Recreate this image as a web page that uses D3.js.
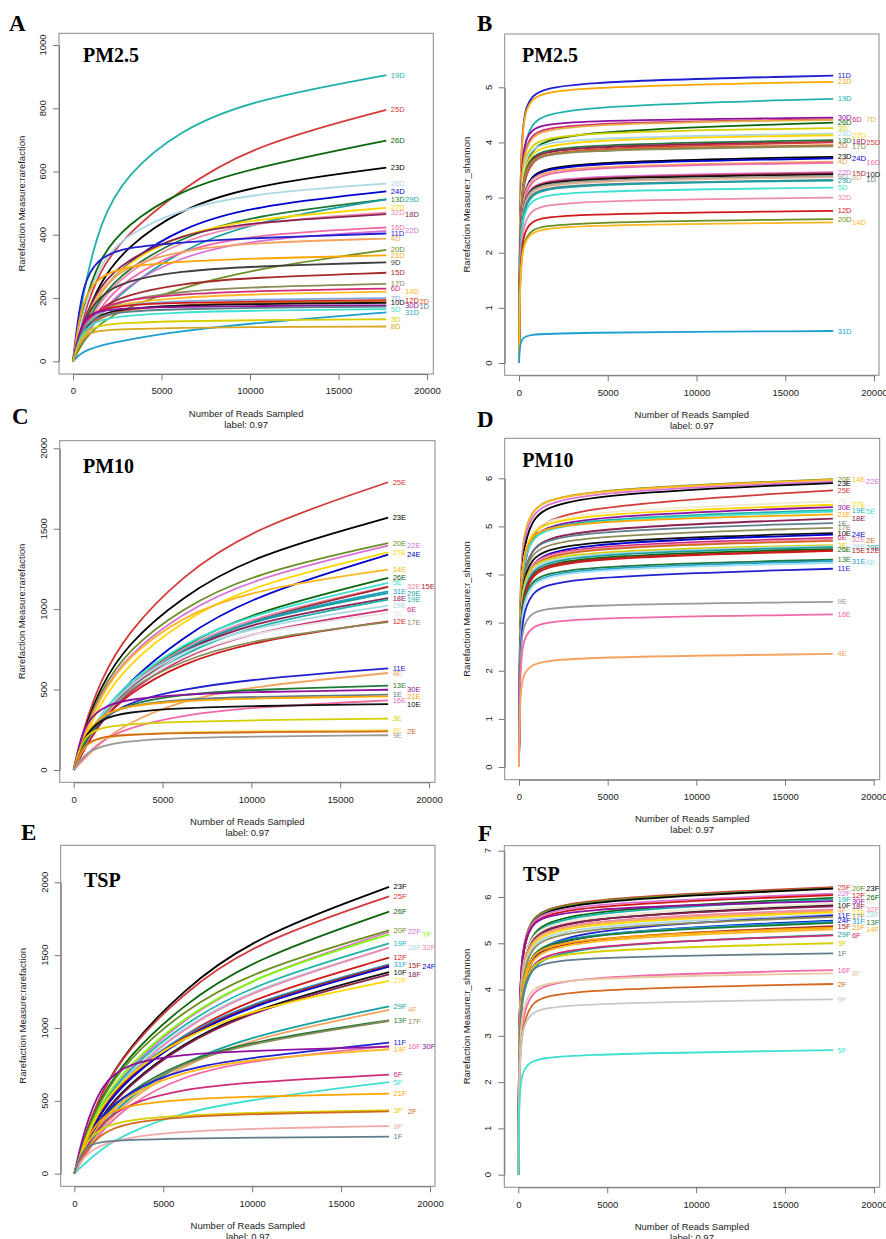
<!DOCTYPE html>
<html>
<head>
<meta charset="utf-8">
<script src="https://cdn.jsdelivr.net/npm/d3@7"></script>
<style>
  body { margin: 0; background: #fff; }
</style>
</head>
<body>
<svg id="fig" width="886" height="1239"></svg>
<script>
// ----- //
// data
// ----- //
// reads sampled at which each curve was read
const richX = [0, 500, 1500, 3000, 6000, 10000, 17700];
const shanX = [0, 50, 200, 600, 2000, 17700];
const xTicks = [0, 5000, 10000, 15000, 20000];

// A: PM2.5 richness
const aNames = ["19D","25D","26D","23D","28D","24D","13D","29D","27D","32D","18D","16D","22D","11D","4D","20D","21D","9D","15D","17D","6D","14D","7D","12D","2D","10D","30D","1D","5D","31D","3D","8D"];
const aValues = [
  [0,200,440,590,730,825,905],
  [0,130,290,400,540,680,795],
  [0,160,330,430,540,610,698],
  [0,110,250,360,480,555,612],
  [0,150,310,400,480,530,562],
  [0,100,220,310,420,490,537],
  [0,90,200,290,390,460,512],
  [0,60,150,230,350,440,512],
  [0,100,220,310,400,450,485],
  [0,80,190,280,380,440,470],
  [0,120,240,320,400,440,465],
  [0,70,170,260,350,400,423],
  [0,60,150,240,330,385,412],
  [0,250,330,360,375,390,404],
  [0,110,230,300,350,375,388],
  [0,60,120,170,230,290,352],
  [0,200,270,300,315,325,335],
  [0,120,210,255,285,300,313],
  [0,100,170,210,245,265,280],
  [0,90,160,195,220,235,245],
  [0,110,170,195,212,222,230],
  [0,100,160,185,202,212,220],
  [0,110,160,180,190,195,200],
  [0,130,165,178,185,189,193],
  [0,90,140,165,178,185,190],
  [0,100,150,168,177,181,185],
  [0,140,160,168,172,175,177],
  [0,110,145,158,165,169,173],
  [0,100,132,145,155,160,165],
  [0,30,50,68,95,120,155],
  [0,90,115,122,127,130,133],
  [0,85,98,102,106,108,110]
];
const aTicks = [0, 200, 400, 600, 800, 1000];

// B: PM2.5 shannon
const bNames = ["11D","21D","19D","30D","6D","7D","26D","3D","28D","27D","13D","18D","25D","2D","17D","23D","24D","4D","16D","22D","15D","10D","9D","8D","1D","29D","5D","32D","12D","20D","14D","31D"];
const bValues = [
  [0,3.1,4.45,4.85,5.1,5.21],
  [0,3.1,4.4,4.8,5.0,5.10],
  [0,2.6,3.8,4.35,4.65,4.79],
  [0,2.7,3.9,4.25,4.4,4.45],
  [0,2.6,3.75,4.15,4.35,4.42],
  [0,2.6,3.7,4.1,4.33,4.41],
  [0,2.3,3.4,3.85,4.2,4.36],
  [0,2.5,3.6,3.95,4.18,4.26],
  [0,2.5,3.55,3.88,4.08,4.16],
  [0,2.4,3.45,3.8,4.05,4.13],
  [0,2.3,3.35,3.75,3.96,4.04],
  [0,2.3,3.3,3.72,3.93,4.01],
  [0,2.2,3.2,3.65,3.9,4.00],
  [0,2.3,3.3,3.7,3.88,3.95],
  [0,2.3,3.3,3.68,3.86,3.93],
  [0,2.1,3.0,3.4,3.64,3.74],
  [0,2.1,3.0,3.38,3.62,3.71],
  [0,2.1,3.0,3.35,3.57,3.65],
  [0,2.0,2.9,3.3,3.55,3.63],
  [0,2.0,2.85,3.2,3.39,3.46],
  [0,2.0,2.85,3.18,3.37,3.44],
  [0,2.0,2.85,3.17,3.35,3.42],
  [0,2.0,2.85,3.15,3.32,3.39],
  [0,2.0,2.8,3.12,3.3,3.37],
  [0,1.9,2.75,3.08,3.25,3.32],
  [0,1.9,2.7,3.05,3.24,3.31],
  [0,1.85,2.65,2.95,3.12,3.18],
  [0,1.7,2.45,2.78,2.94,3.00],
  [0,1.6,2.3,2.58,2.7,2.76],
  [0,1.5,2.15,2.42,2.55,2.61],
  [0,1.5,2.1,2.37,2.5,2.55],
  [0,0.34,0.46,0.51,0.55,0.58]
];
const bTicks = [0, 1, 2, 3, 4, 5];

// C: PM10 richness
const cNames = ["25E","23E","20E","22E","27E","24E","14E","26E","5E","32E","15E","31E","29E","18E","19E","28E","6E","7E","12E","17E","11E","4E","13E","30E","1E","21E","16E","10E","3E","8E","2E","9E"];
const cValues = [
  [0,240,560,850,1200,1500,1789],
  [0,220,520,780,1070,1330,1569],
  [0,210,490,740,1000,1220,1411],
  [0,200,470,710,970,1190,1395],
  [0,170,420,650,920,1150,1353],
  [0,120,330,540,820,1080,1339],
  [0,190,460,700,950,1120,1246],
  [0,130,330,520,770,980,1194],
  [0,140,350,540,780,970,1163],
  [0,130,330,520,760,950,1142],
  [0,120,320,500,740,940,1138],
  [0,120,320,510,750,940,1111],
  [0,120,320,510,750,935,1100],
  [0,120,320,510,740,920,1069],
  [0,110,300,490,720,900,1059],
  [0,130,340,520,740,890,1022],
  [0,110,300,480,700,860,997],
  [0,120,320,500,710,860,976],
  [0,110,300,470,660,800,924],
  [0,130,330,500,680,810,920],
  [0,160,310,420,500,565,632],
  [0,60,170,290,430,520,603],
  [0,160,320,410,470,500,524],
  [0,270,390,440,470,485,499],
  [0,180,330,400,440,455,468],
  [0,200,340,400,430,445,458],
  [0,70,180,260,340,390,433],
  [0,200,320,360,385,398,410],
  [0,210,265,285,300,310,319],
  [0,150,200,220,235,242,247],
  [0,160,205,220,230,235,240],
  [0,90,150,180,200,208,216]
];
const cTicks = [0, 500, 1000, 1500, 2000];

// D: PM10 shannon
const dNames = ["20E","14E","22E","23E","25E","7E","27E","30E","19E","5E","21E","18E","1E","17E","10E","24E","6E","32E","2E","3E","28E","29E","26E","15E","12E","13E","31E","8E","11E","9E","16E","4E"];
const dValues = [
  [0,3.6,4.7,5.3,5.75,5.98],
  [0,3.6,4.7,5.3,5.74,5.97],
  [0,3.5,4.6,5.2,5.7,5.93],
  [0,3.3,4.4,5.1,5.65,5.90],
  [0,3.0,4.0,4.8,5.4,5.75],
  [0,3.2,4.3,4.9,5.3,5.52],
  [0,3.2,4.3,4.85,5.25,5.45],
  [0,3.0,4.1,4.75,5.2,5.40],
  [0,3.1,4.2,4.75,5.15,5.34],
  [0,3.1,4.15,4.72,5.12,5.31],
  [0,3.3,4.3,4.8,5.1,5.25],
  [0,2.9,3.9,4.5,4.95,5.16],
  [0,3.0,3.95,4.5,4.9,5.07],
  [0,3.0,3.9,4.4,4.8,4.97],
  [0,2.9,3.8,4.3,4.7,4.86],
  [0,2.7,3.6,4.2,4.65,4.83],
  [0,2.8,3.7,4.2,4.6,4.76],
  [0,2.8,3.7,4.2,4.57,4.73],
  [0,2.8,3.7,4.15,4.55,4.70],
  [0,2.9,3.75,4.15,4.48,4.61],
  [0,2.8,3.6,4.1,4.45,4.59],
  [0,2.7,3.55,4.05,4.42,4.57],
  [0,2.6,3.5,4.0,4.38,4.53],
  [0,2.7,3.5,4.0,4.35,4.50],
  [0,2.6,3.45,3.95,4.33,4.49],
  [0,2.6,3.4,3.85,4.17,4.31],
  [0,2.5,3.3,3.8,4.13,4.28],
  [0,2.5,3.3,3.78,4.1,4.24],
  [0,2.3,3.1,3.6,3.95,4.12],
  [0,2.2,2.9,3.2,3.37,3.43],
  [0,1.9,2.6,2.9,3.1,3.17],
  [0,1.4,1.9,2.12,2.28,2.35]
];
const dTicks = [0, 1, 2, 3, 4, 5, 6];

// E: TSP richness
const eNames = ["23F","25F","26F","20F","22F","7F","19F","28F","32F","12F","31F","15F","24F","10F","18F","27F","29F","4F","13F","17F","11F","16F","30F","14F","6F","5F","21F","3F","2F","9F","1F"];
const eValues = [
  [0,230,560,860,1250,1620,1968],
  [0,230,560,850,1230,1580,1904],
  [0,220,530,800,1150,1470,1799],
  [0,220,520,780,1110,1390,1670],
  [0,190,470,720,1050,1350,1659],
  [0,200,490,740,1060,1350,1643],
  [0,190,470,710,1020,1300,1581],
  [0,180,450,690,1000,1270,1551],
  [0,170,440,680,990,1260,1551],
  [0,170,430,660,950,1210,1483],
  [0,190,460,680,950,1180,1437],
  [0,180,440,670,940,1170,1430],
  [0,170,430,650,930,1160,1421],
  [0,160,400,610,890,1130,1384],
  [0,150,390,600,880,1120,1368],
  [0,200,470,680,930,1130,1323],
  [0,130,330,520,760,950,1149],
  [0,120,310,500,740,930,1124],
  [0,150,380,560,770,910,1053],
  [0,140,360,540,760,900,1048],
  [0,170,400,560,720,800,899],
  [0,110,290,470,670,780,876],
  [0,280,620,760,820,845,872],
  [0,150,370,540,700,790,854],
  [0,150,350,480,580,630,680],
  [0,60,170,280,420,510,629],
  [0,200,400,470,510,530,549],
  [0,200,320,370,400,420,435],
  [0,130,280,350,390,410,428],
  [0,120,200,250,290,310,327],
  [0,190,220,232,242,248,254]
];
const eTicks = [0, 500, 1000, 1500, 2000];

// F: TSP shannon
const fNames = ["25F","20F","23F","22F","12F","26F","19F","30F","7F","10F","18F","32F","4F","27F","28F","11F","17F","24F","31F","13F","15F","21F","14F","29F","6F","3F","1F","16F","8F","2F","9F","5F"];
const fValues = [
  [0,3.6,4.8,5.5,5.95,6.21],
  [0,3.6,4.8,5.5,5.93,6.19],
  [0,3.5,4.7,5.45,5.9,6.18],
  [0,3.6,4.8,5.45,5.85,6.07],
  [0,3.5,4.7,5.4,5.8,6.04],
  [0,3.3,4.4,5.15,5.7,5.98],
  [0,3.3,4.4,5.1,5.67,5.95],
  [0,3.6,4.8,5.4,5.75,5.91],
  [0,3.4,4.5,5.1,5.6,5.86],
  [0,3.2,4.3,5.0,5.55,5.82],
  [0,3.3,4.4,5.05,5.55,5.80],
  [0,3.3,4.4,5.0,5.5,5.73],
  [0,3.3,4.4,5.0,5.47,5.70],
  [0,3.2,4.3,4.95,5.43,5.67],
  [0,3.2,4.3,4.9,5.38,5.62],
  [0,2.9,3.9,4.6,5.3,5.60],
  [0,3.1,4.2,4.85,5.33,5.57],
  [0,2.9,3.9,4.6,5.22,5.49],
  [0,3.0,4.1,4.7,5.22,5.47],
  [0,3.0,4.1,4.7,5.2,5.44],
  [0,3.0,4.0,4.6,5.12,5.37],
  [0,3.1,4.1,4.7,5.12,5.34],
  [0,3.0,4.0,4.6,5.08,5.30],
  [0,2.8,3.8,4.4,4.95,5.18],
  [0,2.9,3.9,4.5,4.95,5.17],
  [0,2.9,3.9,4.5,4.85,5.00],
  [0,2.9,3.9,4.45,4.7,4.78],
  [0,2.4,3.3,3.9,4.28,4.42],
  [0,2.6,3.5,4.0,4.25,4.35],
  [0,2.3,3.1,3.7,4.0,4.12],
  [0,2.3,3.1,3.5,3.7,3.79],
  [0,1.7,2.2,2.45,2.6,2.69]
];
const fTicks = [0, 1, 2, 3, 4, 5, 6, 7];

// ----- //
// styles
// ----- //
// colour per sample number
const sampleColors = {
  1:"#607D8B", 2:"#D2691E", 3:"#D6CF00", 4:"#F4A460", 5:"#40E0D0", 6:"#D02C78",
  7:"#7EA6E0", 8:"#DAA520", 9:"#999999", 10:"#111111", 11:"#2020D0", 12:"#D01818",
  13:"#1F7A3A", 14:"#FFB820", 15:"#A52A2A", 16:"#F06AA8", 17:"#8B8B5A", 18:"#8B2252",
  19:"#20B2AA", 20:"#6B8E23", 21:"#FFA500", 22:"#DA70D6", 23:"#000000", 24:"#0000CD",
  25:"#D43B3B", 26:"#0B660B", 27:"#FFD700", 28:"#ADD8E6", 29:"#18A0A0", 30:"#9010A0",
  31:"#1E9FD0", 32:"#EE8AB0"
};
const sansFont = "'Liberation Sans', Arial, Helvetica, sans-serif";
const serifFont = "'Liberation Serif', 'Times New Roman', serif";

const panels = [
  { letter: "A", tag: "PM2.5", names: aNames, values: aValues, xs: richX, ticks: aTicks,
    ylab: "Rarefaction Measure:rarefaction", colors: { 9: "#404040" },
    letterPos: [9, 30.5], tagPos: [83, 61.7], box: [59, 33.3, 433.3, 374], xr: [73, 427], yr: [361.3, 45] },
  { letter: "B", tag: "PM2.5", names: bNames, values: bValues, xs: shanX, ticks: bTicks,
    ylab: "Rarefaction Measure:r_shannon", colors: { 7: "#E8B040", 8: "#E0B090" },
    letterPos: [477, 30.5], tagPos: [522, 61.7], box: [504.7, 34, 879, 375.3], xr: [519, 874], yr: [363, 87.3] },
  { letter: "C", tag: "PM10", names: cNames, values: cValues, xs: richX, ticks: cTicks,
    ylab: "Rarefaction Measure:rarefaction", colors: { 7: "#E4E4E4", 8: "#F5E050" },
    letterPos: [12, 423.5], tagPos: [83, 473], box: [59.7, 440.7, 435, 782.3], xr: [73.7, 429], yr: [770, 448.3] },
  { letter: "D", tag: "PM10", names: dNames, values: dValues, xs: shanX, ticks: dTicks,
    ylab: "Rarefaction Measure:r_shannon", colors: { 7: "#F0EAD0", 8: "#A0E0F0" },
    letterPos: [477, 427], tagPos: [522.3, 467], box: [504.7, 438.3, 879.7, 779.7], xr: [519, 873.7], yr: [767, 478.3] },
  { letter: "E", tag: "TSP", names: eNames, values: eValues, xs: richX, ticks: eTicks,
    ylab: "Rarefaction Measure:rarefaction", colors: { 7: "#7CFC00", 9: "#F0A8A8" },
    letterPos: [21, 840], tagPos: [84, 887], box: [60.7, 845.3, 435, 1186.3], xr: [74.3, 430], yr: [1173.7, 882.3] },
  { letter: "F", tag: "TSP", names: fNames, values: fValues, xs: shanX, ticks: fTicks,
    ylab: "Rarefaction Measure:r_shannon", colors: { 7: "#EEE8CC", 8: "#E8C8A0", 9: "#C8C8C8" },
    letterPos: [478, 840.5], tagPos: [523, 881.3], box: [504.3, 845.7, 879.7, 1187.3], xr: [518.3, 874], yr: [1174.7, 850.7] }
];

// ----- //
// drawing
// ----- //
const svg = d3.select("#fig");
svg.append("rect").attr("width", 886).attr("height", 1239).attr("fill", "#fff");

panels.forEach(drawPanel);

function drawPanel(p) {
  const g = svg.append("g");
  const [bx0, by0, bx1, by1] = p.box;
  const x = d3.scaleLinear().domain([0, 20000]).range(p.xr);
  const y = d3.scaleLinear().domain([0, d3.max(p.ticks)]).range(p.yr);
  const colorOf = name => {
    const k = parseInt(name);
    return (p.colors && p.colors[k]) || sampleColors[k];
  };

  // plot frame
  g.append("rect")
    .attr("x", bx0).attr("y", by0)
    .attr("width", bx1 - bx0).attr("height", by1 - by0)
    .attr("fill", "none").attr("stroke", "#8a8a8a").attr("stroke-width", 1);

  // x axis
  const xa = g.append("g")
    .attr("transform", `translate(0,${by1})`)
    .call(d3.axisBottom(x).tickValues(xTicks).tickSize(6).tickSizeOuter(0)
      .tickPadding(7.5).tickFormat(d3.format("d")));
  xa.selectAll("text").attr("font-family", sansFont).attr("font-size", 9.5).attr("fill", "#222");

  // y axis (ticks drawn by d3, labels rotated like R)
  const ya = g.append("g")
    .attr("transform", `translate(${bx0},0)`)
    .call(d3.axisLeft(y).tickValues(p.ticks).tickSize(6).tickSizeOuter(0).tickFormat(""));
  [xa, ya].forEach(a => {
    a.select(".domain").attr("stroke", "#777");
    a.selectAll(".tick line").attr("stroke", "#777");
  });
  g.selectAll(".ytl")
    .data(p.ticks)
    .join("text")
    .attr("class", "ytl")
    .attr("transform", d => `translate(${bx0 - 16.5},${y(d)}) rotate(-90)`)
    .attr("text-anchor", "middle")
    .attr("dominant-baseline", "central")
    .attr("font-family", sansFont).attr("font-size", 9.5).attr("fill", "#222")
    .text(d => d);

  // axis titles
  const cx = (bx0 + bx1) / 2, cy = (by0 + by1) / 2;
  g.append("text")
    .attr("transform", `translate(${bx0 - 38},${cy}) rotate(-90)`)
    .attr("text-anchor", "middle").attr("dominant-baseline", "central")
    .attr("font-family", sansFont).attr("font-size", 9.5).attr("fill", "#222")
    .text(p.ylab);
  g.append("text")
    .attr("x", cx).attr("y", by1 + 39)
    .attr("text-anchor", "middle").attr("dominant-baseline", "central")
    .attr("font-family", sansFont).attr("font-size", 9.5).attr("fill", "#222")
    .text("Number of Reads Sampled");
  g.append("text")
    .attr("x", cx).attr("y", by1 + 50)
    .attr("text-anchor", "middle").attr("dominant-baseline", "central")
    .attr("font-family", sansFont).attr("font-size", 9.5).attr("fill", "#222")
    .text("label: 0.97");

  // curves (smooth B-spline through the read points)
  const line = d3.line()
    .x((d, i) => x(p.xs[i]))
    .y(d => y(d))
    .curve(d3.curveBasis);
  p.names.forEach((n, i) => {
    g.append("path")
      .attr("d", line(p.values[i]))
      .attr("fill", "none")
      .attr("stroke", colorOf(n))
      .attr("stroke-width", 1.8);
  });

  // end labels: shift right when they would collide with the label above (max 3 columns)
  const xEnd = x(p.xs[p.xs.length - 1]);
  const labels = p.names.map((n, i) => ({ n, yy: y(p.values[i][p.values[i].length - 1]) }))
    .sort((a, b) => a.yy - b.yy);
  const lastY = [];
  labels.forEach(l => {
    let c = 0;
    while (c < 3 && lastY[c] !== undefined && Math.abs(l.yy - lastY[c]) < 4.5) c++;
    if (c === 3) {
      // every column is busy: take the one with the most room
      c = d3.maxIndex(lastY, v => Math.abs(l.yy - v));
    }
    lastY[c] = l.yy;
    l.col = c;
  });
  g.selectAll(".lab")
    .data(labels)
    .join("text")
    .attr("class", "lab")
    .attr("x", d => xEnd + 4.5 + d.col * 14.3)
    .attr("y", d => d.yy)
    .attr("dominant-baseline", "central")
    .attr("font-family", sansFont).attr("font-size", 7.6)
    .attr("fill", d => colorOf(d.n))
    .text(d => d.n);

  // panel letter and sample type
  g.append("text")
    .attr("x", p.letterPos[0]).attr("y", p.letterPos[1])
    .attr("font-family", serifFont).attr("font-weight", "bold").attr("font-size", 23)
    .text(p.letter);
  g.append("text")
    .attr("x", p.tagPos[0]).attr("y", p.tagPos[1])
    .attr("font-family", serifFont).attr("font-weight", "bold").attr("font-size", 20)
    .text(p.tag);
}
</script>
</body>
</html>
